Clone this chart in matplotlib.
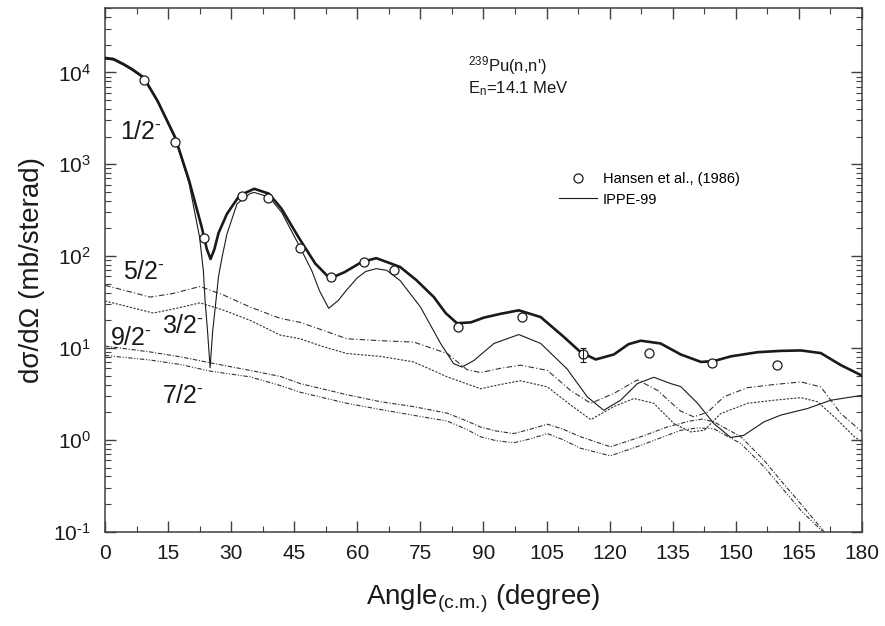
import numpy as np
import matplotlib
matplotlib.use('Agg')
import matplotlib.pyplot as plt
from matplotlib.ticker import LogLocator, MultipleLocator, NullFormatter

plt.rcParams.update({
    'font.family'      : ['Liberation Sans', 'DejaVu Sans'],
    'mathtext.fontset' : 'custom',
    'mathtext.rm'      : 'Liberation Sans',
    'mathtext.it'      : 'Liberation Sans:italic',
    'mathtext.bf'      : 'Liberation Sans:bold',
})

INK  = '#1a1a1a'
AXIS = '#404040'

# total (thick) curve
ang_tot = [0, 2, 4.4, 6.5, 9.2, 12.5, 16.7, 20, 23, 24.2, 25.1, 26, 27, 29, 32, 35.5,
           39, 42, 46, 50, 53.5, 57, 61, 64.5, 68, 70.2, 74, 78.2, 81, 83.7, 87, 90.1,
           94, 98.4, 103.6, 109.1, 113.1, 116.7, 121, 124.5, 127.4, 132.1, 136.9,
           141.7, 144.8, 148.8, 155.2, 160.7, 165.5, 170.2, 175, 180]
val_tot = [14350, 14000, 12300, 10800, 8800, 4900, 1960, 665, 207, 120, 93, 118, 178,
           288, 457, 540, 478, 327, 161, 83, 57, 67, 86, 95, 83, 76, 55, 35.8, 24, 18.6,
           19, 21.4, 23.5, 25.7, 21.7, 13.2, 9.0, 7.5, 8.5, 11, 12, 11.2, 8.5, 7.05,
           7.2, 8.1, 9.0, 9.3, 9.4, 8.8, 6.5, 5.0]

# 1/2- ground state (IPPE-99, thin)
ang_gs = [0, 2, 4.4, 6.5, 9.2, 12.5, 16.7, 20, 22.5, 23.4, 23.8, 24.4, 25.0, 25.6,
          26.4, 27.0, 27.8, 29, 31.4, 34.5, 35.5, 39, 42, 46, 49.2, 51, 53.2, 55.5,
          57.5, 60, 62, 64.5, 67, 70.2, 75, 79.8, 82.9, 84.9, 87.7, 92.5, 98.4, 103.6,
          109.9, 114.7, 118.6, 122.6, 126.6, 130.5, 134.5, 136.9, 140.9, 144.8, 148.8,
          151.9, 156.7, 160.7, 167, 172.6, 180]
val_gs = [14000, 13600, 12000, 10500, 8600, 4750, 1880, 620, 160, 69, 33, 15, 6.1, 15,
          33, 60, 95, 174, 370, 480, 493, 440, 300, 135, 69, 42, 27, 33, 43, 58, 68, 73,
          70, 54, 28, 11.2, 6.75, 6.2, 7.3, 11.2, 14, 11.2, 5.9, 2.93, 2.1, 2.7, 4.1,
          4.8, 4.1, 3.8, 2.5, 1.5, 1.06, 1.12, 1.57, 1.86, 2.19, 2.7, 3.05]

# 5/2- level
ang_52 = [0, 5, 10.7, 16, 22.6, 28, 34.5, 41.7, 46.4, 52, 57.5, 65.5, 73.4, 81.4, 86.1,
          89.3, 94, 98.8, 105.2, 110.7, 115.5, 121, 126.6, 131.4, 136.9, 140, 143.3,
          147.2, 152.8, 159.1, 165.5, 170.2, 175, 180]
val_52 = [48, 42, 35.8, 39, 46.7, 38, 27.9, 21, 19, 15.5, 12.6, 12, 11.6, 8.7, 5.8, 5.4,
          6.0, 6.5, 5.7, 3.45, 2.5, 3.2, 4.5, 3.45, 2.05, 1.78, 2.0, 2.95, 3.7, 4.0,
          4.27, 3.77, 1.93, 1.22]

# 3/2- level
ang_32 = [0, 5, 11.5, 17, 22.6, 28, 34.5, 41.7, 46.4, 52, 57.5, 65.5, 73.4, 81.4, 89.3,
          94, 98.8, 105.2, 110.7, 115.5, 121, 125.8, 130.5, 135.3, 139.3, 142.5, 146.4,
          152.8, 159.1, 165.5, 169.4, 173.4, 178.2, 180]
val_32 = [32.5, 28.5, 24, 27, 31, 26, 20, 13.8, 12.6, 10.3, 8.7, 8.1, 7.05, 4.85, 3.6,
          4.0, 4.4, 3.77, 2.4, 1.66, 2.3, 2.82, 2.5, 1.5, 1.22, 1.27, 1.93, 2.5, 2.7,
          2.88, 2.6, 1.78, 1.08, 0.95]

# 9/2- level
ang_92 = [0, 10.7, 18, 25, 34.5, 41.7, 46.4, 57.5, 65.5, 73.4, 81.4, 86.1, 89.3, 93,
          97.2, 101, 105.2, 109, 113.1, 120.2, 127.4, 133.7, 139, 142, 144.8, 151.2,
          156.7, 160.7, 165.5, 171, 175]
val_92 = [10.5, 9.06, 8.0, 6.9, 5.7, 4.9, 4.1, 3.1, 2.6, 2.3, 1.95, 1.6, 1.38, 1.25,
          1.17, 1.3, 1.48, 1.3, 1.08, 0.84, 1.08, 1.38, 1.6, 1.68, 1.57, 1.08, 0.6,
          0.36, 0.2, 0.1, 0.05]

# 7/2- level
ang_72 = [0, 10.7, 18, 25, 34.5, 41.7, 46.4, 57.5, 65.5, 73.4, 81.4, 86, 89.3, 93,
          97.2, 101, 105.2, 109, 113.1, 120.2, 127.4, 133.7, 136.9, 141, 144.8, 151.2,
          156.7, 160.7, 165.5, 170.2, 175]
val_72 = [8.3, 7.4, 6.6, 5.6, 4.85, 3.9, 3.3, 2.5, 2.14, 1.85, 1.6, 1.3, 1.08, 0.98,
          0.93, 1.02, 1.17, 1.0, 0.81, 0.67, 0.87, 1.12, 1.27, 1.35, 1.32, 0.91, 0.51,
          0.31, 0.17, 0.105, 0.05]

# Hansen et al. (1986)
exp_ang = [9.2, 16.7, 23.5, 32.5, 38.8, 46.4, 53.8, 61.5, 68.8, 83.9, 99.2, 113.7,
           129.4, 144.4, 159.7]
exp_val = [8300, 1745, 157, 454, 425, 122, 59, 86, 71, 17, 21.7, 8.5, 8.9, 6.8, 6.5]
exp_err = [0, 0, 0, 0, 0, 0, 0, 0, 0, 0, 0, 1.4, 0, 0, 0]

fig = plt.figure(figsize=(8.85, 6.26), dpi=100)
ax = fig.add_axes([0.1186, 0.1506, 0.8554, 0.8364])

ax.plot(ang_tot, val_tot, color=INK, lw=1.9, zorder=4)
thin, = ax.plot(ang_gs, val_gs, color=INK, lw=0.8, zorder=4)
ax.plot(ang_52, val_52, color='#333333', lw=0.8, dashes=(5, 2, 1, 2))
ax.plot(ang_32, val_32, color='#333333', lw=0.8, dashes=(2, 1.3))
ax.plot(ang_92, val_92, color='#333333', lw=0.8, dashes=(4, 1.5, 1, 1.5))
ax.plot(ang_72, val_72, color='#333333', lw=0.8, dashes=(4, 1.5, 1, 1.5, 1, 1.5))

pts, = ax.plot(exp_ang, exp_val, 'o', mfc='white', mec=INK, mew=0.9, ms=6.5, zorder=5)
err = np.array(exp_err)
m = err > 0
ax.errorbar(np.array(exp_ang)[m], np.array(exp_val)[m], yerr=err[m], fmt='none',
            ecolor=INK, elinewidth=0.8, capsize=2, capthick=0.8, zorder=5)

ax.set_yscale('log')
ax.set_xlim(0, 180)
ax.set_ylim(0.1, 5e4)

ax.xaxis.set_major_locator(MultipleLocator(15))
ax.xaxis.set_minor_locator(MultipleLocator(7.5))
ax.yaxis.set_minor_locator(LogLocator(base=10, subs=np.arange(2, 10), numticks=20))
ax.yaxis.set_minor_formatter(NullFormatter())
ax.set_yticks([0.1, 1, 10, 100, 1000, 10000])
ax.set_yticklabels([r'$10^{\text{-1}}$', r'$10^{0}$', r'$10^{1}$', r'$10^{2}$',
                    r'$10^{3}$', r'$10^{4}$'])

ax.tick_params(which='both', direction='in', top=True, right=True, colors=AXIS,
               labelcolor=INK, labelsize=15)
ax.tick_params(which='major', length=8, width=1.0)
ax.tick_params(which='minor', length=4, width=0.8)
ax.tick_params(axis='x', pad=9)
ax.tick_params(axis='y', pad=10)
for s in ax.spines.values():
    s.set_color(AXIS)
    s.set_linewidth(1.1)

ax.set_xlabel(r'Angle$_{\text{(c.m.)}}$ (degree)', fontsize=20, color=INK,
              labelpad=14)
ax.set_ylabel('dσ/dΩ (mb/sterad)', fontsize=20, color=INK, labelpad=6)

# level labels
lab_kw = dict(fontsize=18, color=INK, ha='left', va='baseline')
ax.text(3.6, 1900, r'1/2$^{\text{-}}$', **lab_kw)
ax.text(4.3, 57, r'5/2$^{\text{-}}$', **lab_kw)
ax.text(13.6, 14.4, r'3/2$^{\text{-}}$', **lab_kw)
ax.text(1.2, 10.7, r'9/2$^{\text{-}}$', **lab_kw)
ax.text(13.6, 2.5, r'7/2$^{\text{-}}$', **lab_kw)

fig.text(0.529, 0.8946, r"$^{239}$Pu(n,n')", fontsize=12, color=INK, va='center')
fig.text(0.529, 0.859, r'E$_{\text{n}}$=14.1 MeV', fontsize=12, color=INK,
         va='center')

ax.legend([pts, thin], ['Hansen et al., (1986)', 'IPPE-99'],
          loc='upper left', bbox_to_anchor=(559 / 885, 1 - 172 / 626),
          bbox_transform=fig.transFigure, frameon=False, fontsize=10.5,
          handlelength=2.6, handletextpad=0.4, borderpad=0, borderaxespad=0,
          labelspacing=0.45, numpoints=1)

fig.savefig('out.png', dpi=100, facecolor='white')
